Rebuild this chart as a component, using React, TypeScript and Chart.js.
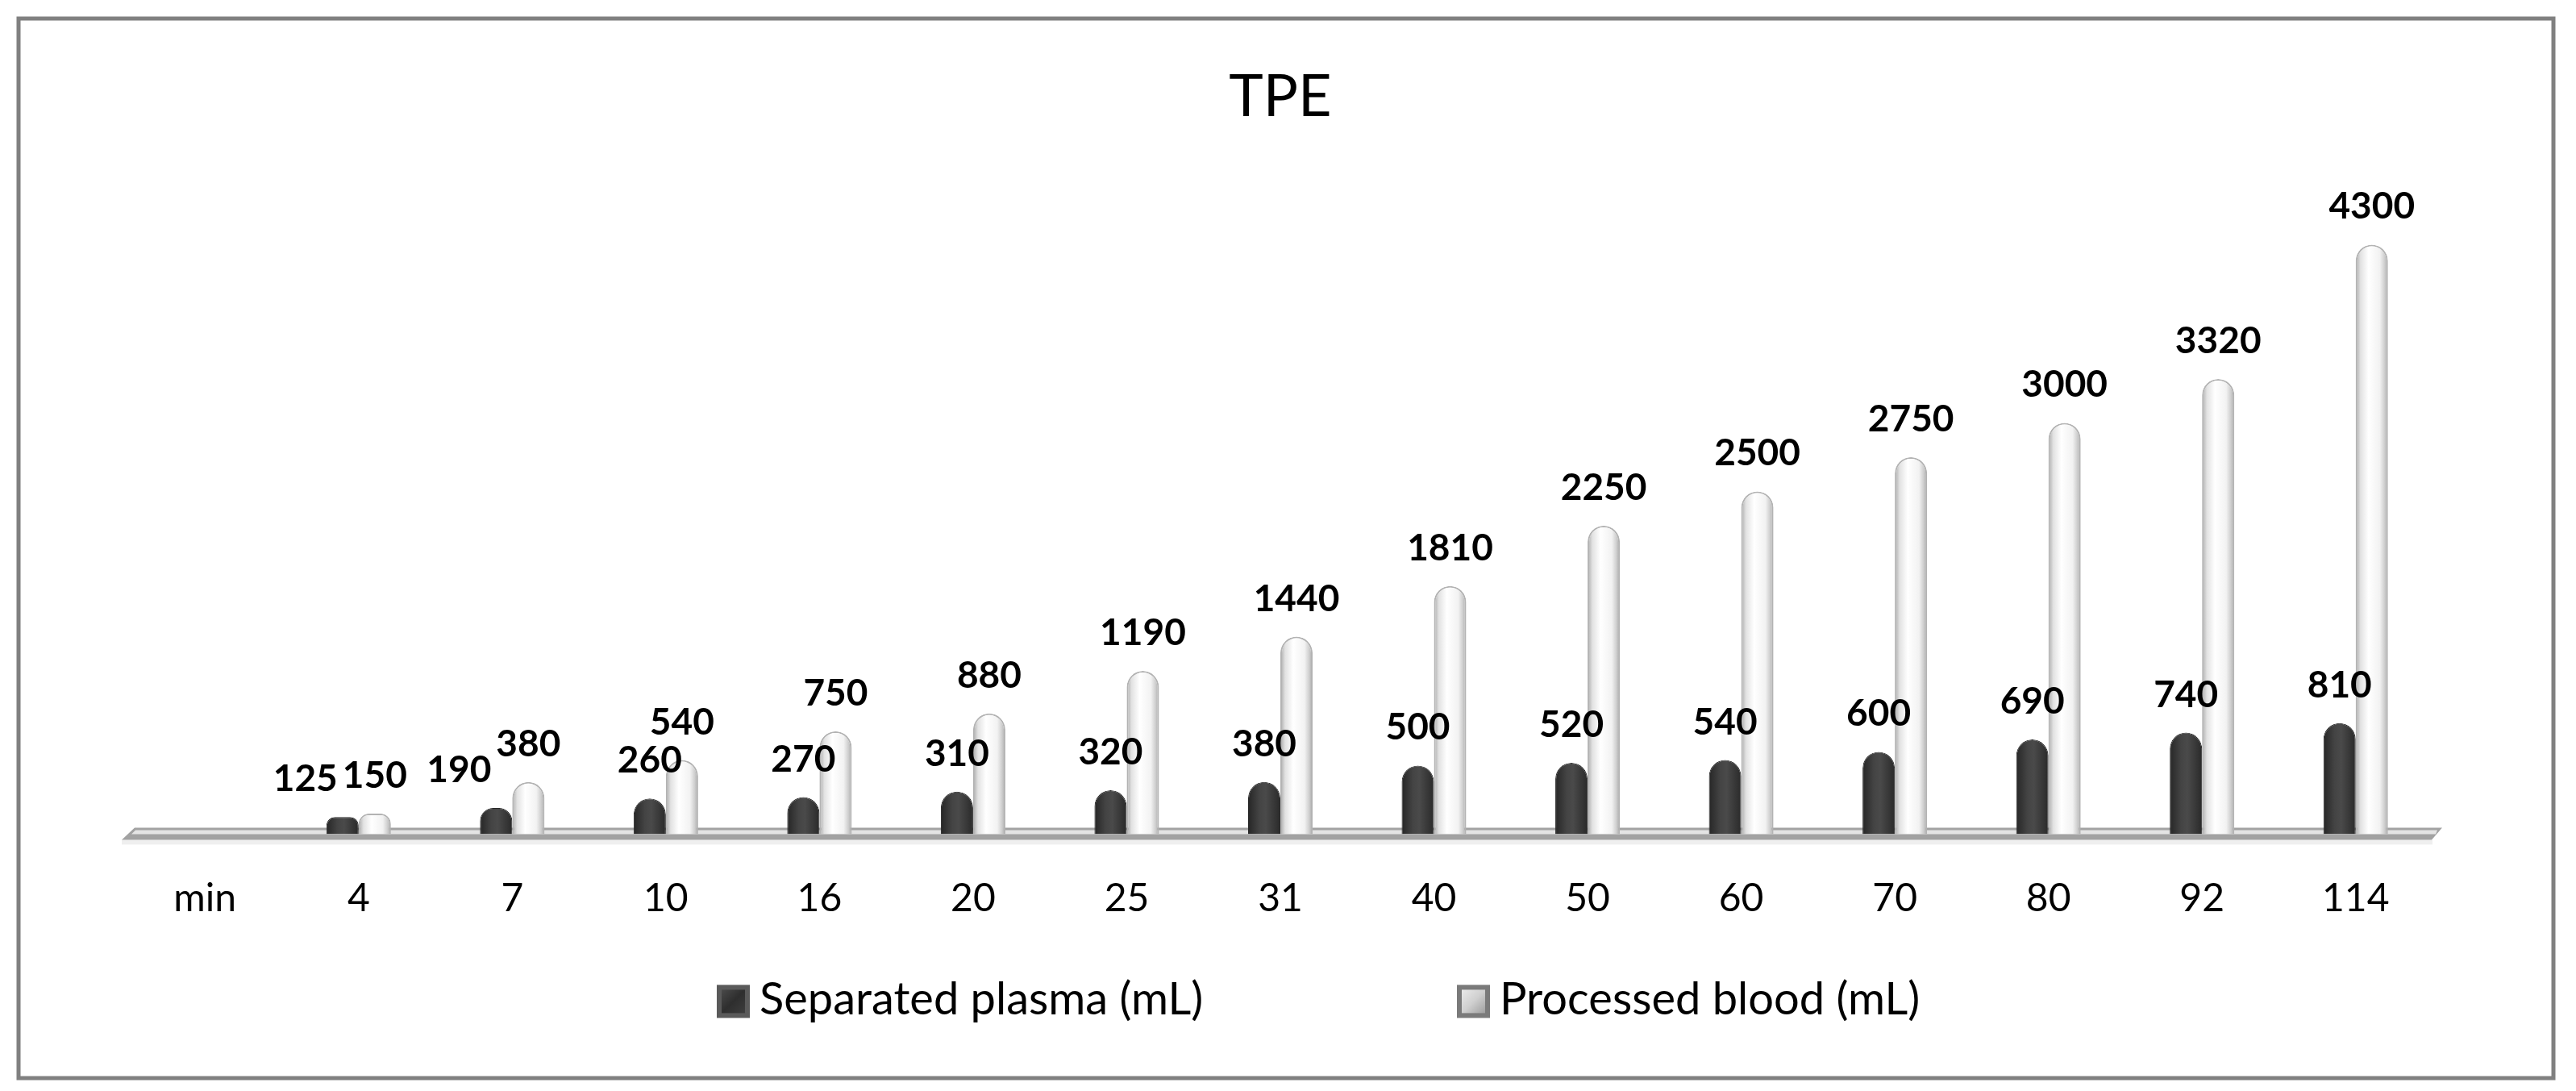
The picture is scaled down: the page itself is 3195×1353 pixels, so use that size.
import React, { useEffect, useRef } from "react";
import { Chart, registerables } from "chart.js";

Chart.register(...registerables);

const categories = ["min", "4", "7", "10", "16", "20", "25", "31", "40", "50", "60", "70", "80", "92", "114"];
const plasma = [null, 125, 190, 260, 270, 310, 320, 380, 500, 520, 540, 600, 690, 740, 810];
const blood = [null, 150, 380, 540, 750, 880, 1190, 1440, 1810, 2250, 2500, 2750, 3000, 3320, 4300];
const seriesNames = ["Separated plasma (mL)", "Processed blood (mL)"];

const FONT = "Lato, 'Open Sans', sans-serif";
const CAT_PCT = 0.42;

// horizontal gradient so the bars look like cylinders
const barFill = (dark: boolean) => (ctx: any) => {
  const fallback = dark ? "#3a3a3a" : "#f2f2f2";
  const chart = ctx.chart;
  const xs = chart.scales && chart.scales.x;
  if (!xs || ctx.dataIndex == null) return fallback;
  const c = xs.getPixelForValue(ctx.dataIndex);
  const w = ((xs.width / categories.length) * CAT_PCT) / 2;
  const x0 = dark ? c - w : c;
  if (!isFinite(x0) || !isFinite(w) || w <= 0) return fallback;
  const g = chart.ctx.createLinearGradient(x0, 0, x0 + w, 0);
  if (dark) {
    g.addColorStop(0, "#262626");
    g.addColorStop(0.35, "#444444");
    g.addColorStop(0.55, "#4a4a4a");
    g.addColorStop(1, "#2a2a2a");
  } else {
    g.addColorStop(0, "#a8a8a8");
    g.addColorStop(0.15, "#e2e2e2");
    g.addColorStop(0.4, "#ffffff");
    g.addColorStop(0.75, "#f2f2f2");
    g.addColorStop(0.9, "#cdcdcd");
    g.addColorStop(1, "#a4a4a4");
  }
  return g;
};

const frame = {
  id: "frame",
  beforeDraw(chart: any) {
    const { ctx } = chart;
    ctx.save();
    ctx.fillStyle = "#ffffff";
    ctx.fillRect(0, 0, chart.width, chart.height);
    ctx.strokeStyle = "#808080";
    ctx.lineWidth = 5;
    ctx.strokeRect(23, 23, 3144, 1314);
    ctx.restore();
  },
};

const floor = {
  id: "floor",
  beforeDatasetsDraw(chart: any) {
    const { ctx, chartArea } = chart;
    const y0 = chart.scales.y.getPixelForValue(0);
    const l = chartArea.left;
    const r = chartArea.right;
    ctx.save();
    ctx.fillStyle = "#efefef";
    ctx.fillRect(l - 8, y0 + 7, r - l + 8, 6);
    ctx.beginPath();
    ctx.moveTo(l + 8, y0 - 8);
    ctx.lineTo(r + 12, y0 - 8);
    ctx.lineTo(r - 1, y0 + 7);
    ctx.lineTo(l - 8, y0 + 7);
    ctx.closePath();
    ctx.fillStyle = "#a2a2a2";
    ctx.fill();
    ctx.beginPath();
    ctx.moveTo(l + 9, y0 - 5);
    ctx.lineTo(r + 6, y0 - 5);
    ctx.lineTo(r + 4, y0);
    ctx.lineTo(l + 4, y0);
    ctx.closePath();
    ctx.fillStyle = "#e4e4e4";
    ctx.fill();
    ctx.restore();
  },
};

const valueLabels = {
  id: "valueLabels",
  afterDatasetsDraw(chart: any) {
    const { ctx } = chart;
    ctx.save();
    ctx.font = `bold 46px ${FONT}`;
    ctx.fillStyle = "#000000";
    ctx.textAlign = "center";
    ctx.textBaseline = "alphabetic";
    const darkMeta = chart.getDatasetMeta(0);
    const lightMeta = chart.getDatasetMeta(1);
    categories.forEach((_c, i) => {
      const a = plasma[i];
      const b = blood[i];
      if (a == null || b == null) return;
      const ea = darkMeta.data[i];
      const eb = lightMeta.data[i];
      const ya = ea.y - 32;
      const yb = eb.y - 32;
      const wa = ctx.measureText(String(a)).width;
      const wb = ctx.measureText(String(b)).width;
      let xa = ea.x;
      // push the dark-bar label aside when the two labels would collide
      if (Math.abs(ya - yb) < 40) {
        const overlap = xa + wa / 2 - (eb.x - wb / 2) + 6;
        if (overlap > 0) xa -= overlap;
      }
      ctx.fillText(String(a), xa, ya);
      ctx.fillText(String(b), eb.x, yb);
    });
    ctx.restore();
  },
};

const legendRow = {
  id: "legendRow",
  afterDraw(chart: any) {
    const { ctx, chartArea } = chart;
    const y = chartArea.bottom + 187;
    const box = 41;
    const starts = [chartArea.left + 730, chartArea.left + 1648];
    ctx.save();
    ctx.font = `56px ${FONT}`;
    ctx.textBaseline = "alphabetic";
    ctx.textAlign = "left";
    chart.data.datasets.forEach((ds: any, di: number) => {
      const dark = di === 0;
      const x = starts[di];
      const g = ctx.createLinearGradient(x, y, x + box, y + box);
      if (dark) {
        g.addColorStop(0, "#555555");
        g.addColorStop(0.5, "#2e2e2e");
        g.addColorStop(1, "#444444");
      } else {
        g.addColorStop(0, "#f4f4f4");
        g.addColorStop(0.5, "#d0d0d0");
        g.addColorStop(1, "#8a8a8a");
      }
      ctx.fillStyle = dark ? "#5a5a5a" : "#7a7a7a";
      ctx.fillRect(x, y, box, box);
      ctx.fillStyle = g;
      ctx.fillRect(x + 6, y + 6, box - 12, box - 12);
      ctx.fillStyle = "#000000";
      ctx.fillText(ds.label, x + box + 12, y + 37);
    });
    ctx.restore();
  },
};

export default function App() {
  const canvasRef = useRef<HTMLCanvasElement>(null);
  const chartRef = useRef<Chart | null>(null);

  useEffect(() => {
    if (!canvasRef.current) return;
    if (chartRef.current) chartRef.current.destroy();

    chartRef.current = new Chart(canvasRef.current, {
      type: "bar",
      data: {
        labels: categories,
        datasets: [
          {
            label: seriesNames[0],
            data: plasma,
            backgroundColor: barFill(true),
            borderColor: "#2a2a2a",
            borderWidth: 1,
            borderRadius: { topLeft: 20, topRight: 20, bottomLeft: 0, bottomRight: 0 },
            borderSkipped: "bottom",
            categoryPercentage: CAT_PCT,
            barPercentage: 1,
          },
          {
            label: seriesNames[1],
            data: blood,
            backgroundColor: barFill(false),
            borderColor: "#b3b3b3",
            borderWidth: 2,
            borderRadius: { topLeft: 20, topRight: 20, bottomLeft: 0, bottomRight: 0 },
            borderSkipped: "bottom",
            categoryPercentage: CAT_PCT,
            barPercentage: 1,
          },
        ],
      },
      options: {
        responsive: true,
        maintainAspectRatio: false,
        animation: false,
        layout: { padding: { top: 0, left: 159, right: 178, bottom: 159 } },
        plugins: {
          legend: { display: false },
          tooltip: { enabled: false },
          title: {
            display: true,
            text: "TPE",
            color: "#000000",
            font: { family: FONT, size: 72, weight: "normal" },
            padding: { top: 78, bottom: 20 },
          },
        },
        scales: {
          x: {
            grid: { display: false, drawTicks: false },
            border: { display: false },
            ticks: {
              color: "#000000",
              font: { family: FONT, size: 48 },
              padding: 51,
              maxRotation: 0,
              autoSkip: false,
            },
          },
          y: {
            display: false,
            min: 0,
            max: 5000,
          },
        },
      },
      plugins: [frame, floor, valueLabels, legendRow],
    });

    return () => {
      if (chartRef.current) {
        chartRef.current.destroy();
        chartRef.current = null;
      }
    };
  }, []);

  return (
    <div style={{ position: "fixed", left: 0, top: 0, width: "3195px", height: "1353px" }}>
      <canvas ref={canvasRef} />
    </div>
  );
}
